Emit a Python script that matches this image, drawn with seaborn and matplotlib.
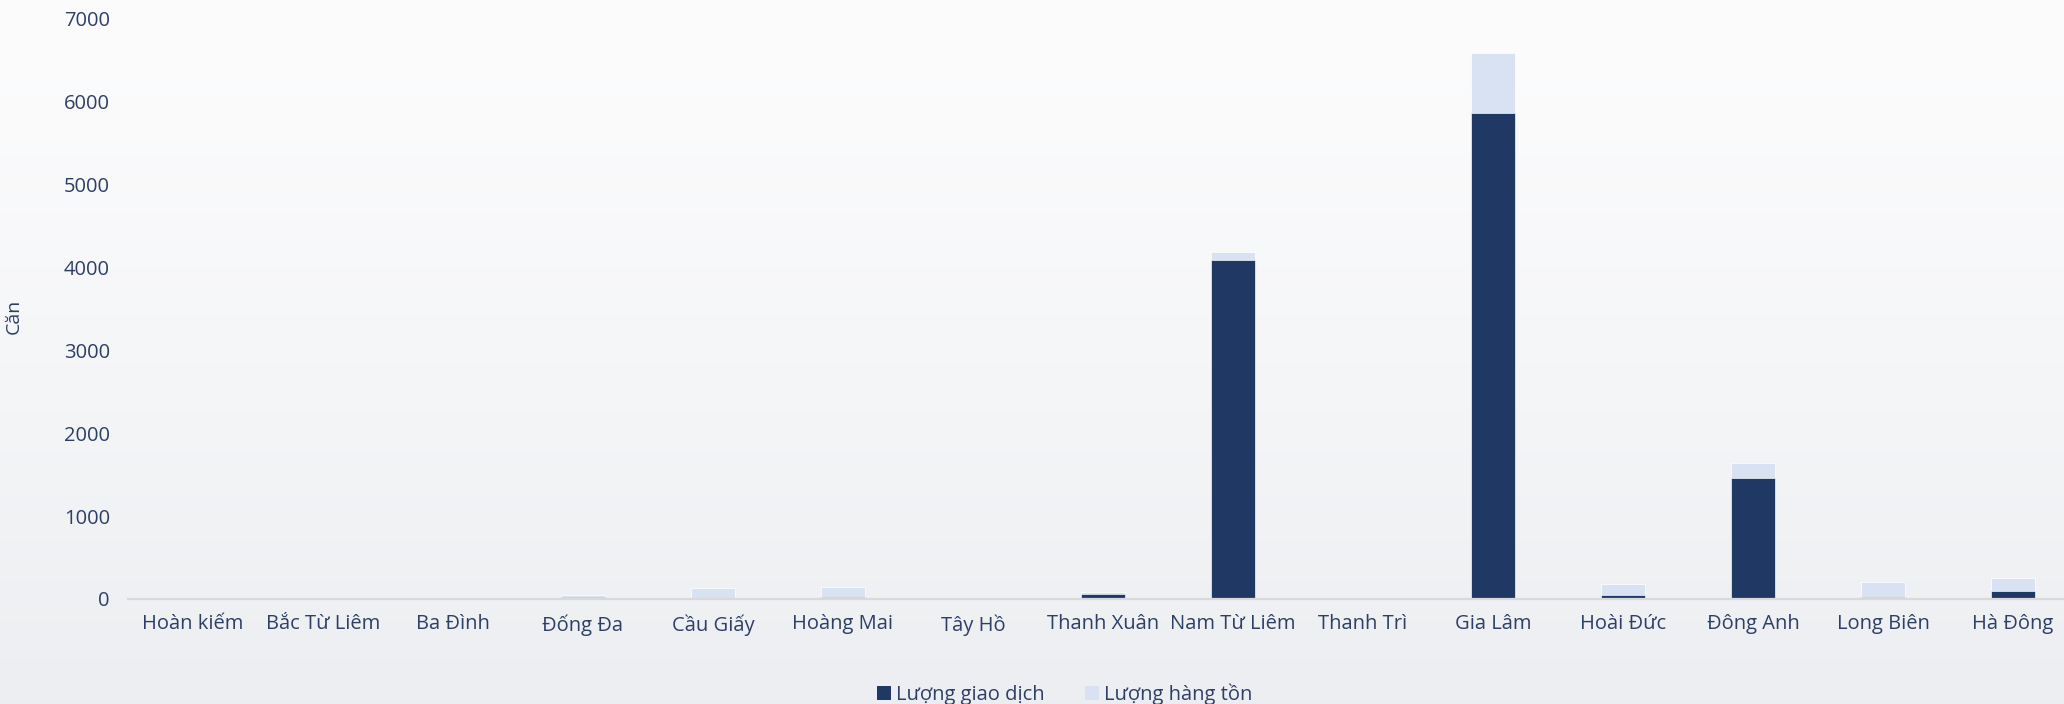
import numpy as np
import pandas as pd
import matplotlib
matplotlib.use("Agg")
import matplotlib.pyplot as plt
from matplotlib.patches import Patch
import seaborn as sns

# ---- data ----
districts = ["Hoàn kiếm", "Bắc Từ Liêm", "Ba Đình", "Đống Đa", "Cầu Giấy",
             "Hoàng Mai", "Tây Hồ", "Thanh Xuân", "Nam Từ Liêm", "Thanh Trì",
             "Gia Lâm", "Hoài Đức", "Đông Anh", "Long Biên", "Hà Đông"]
giao_dich = [0, 0, 0, 20, 15, 30, 0, 55, 4090, 0, 5860, 45, 1460, 30, 95]
hang_ton = [0, 0, 0, 25, 115, 110, 12, 30, 95, 0, 720, 140, 180, 180, 155]
y_ticks = [0, 1000, 2000, 3000, 4000, 5000, 6000, 7000]
series_names = ["Lượng giao dịch", "Lượng hàng tồn"]
y_label = "Căn"

DARK = "#1F3864"
LIGHT = "#D9E2F3"
TEXT = "#2E3F66"

sns.set_theme(style="white")
plt.rcParams["font.family"] = ["Open Sans", "DejaVu Sans"]

df = pd.DataFrame({"district": districts, "gd": giao_dich, "ht": hang_ton})
df["total"] = df["gd"] + df["ht"]

W, H = 2064, 704
fig = plt.figure(figsize=(W / 100, H / 100), dpi=100)

# background gradient (decorative)
bg = fig.add_axes([0, 0, 1, 1], zorder=-10)
grad = np.linspace(0, 1, 256).reshape(-1, 1)
top = np.array([0.988, 0.988, 0.992])
bot = np.array([0.925, 0.933, 0.945])
img = top[None, None, :] * (1 - grad[..., None] ** 1.3) + bot[None, None, :] * (grad[..., None] ** 1.3)
bg.imshow(img, aspect="auto", extent=[0, 1, 0, 1])
bg.set_axis_off()

ax_left = 128 / W
ax_right = 2078 / W
ax_bottom = (H - 599) / H
ax_top = (H - 18.4) / H
ax = fig.add_axes([ax_left, ax_bottom, ax_right - ax_left, ax_top - ax_bottom])
ax.patch.set_alpha(0)

sns.barplot(data=df, x="district", y="total", order=districts, color=LIGHT,
            width=0.345, saturation=1, edgecolor="white", linewidth=0.5, ax=ax)
sns.barplot(data=df, x="district", y="gd", order=districts, color=DARK,
            width=0.345, saturation=1, edgecolor="#F4F6FA", linewidth=0.5, ax=ax)

ax.set_xlim(-0.5, len(districts) - 0.5)
ax.set_ylim(0, 7000)
ax.set_yticks(y_ticks)
ax.set_yticklabels([str(v) for v in y_ticks])
ax.set_xlabel("")
ax.set_ylabel(y_label, fontsize=14, color=TEXT)
ax.yaxis.set_label_coords(-0.054, 0.487)

for s in ["top", "right", "left"]:
    ax.spines[s].set_visible(False)
ax.spines["bottom"].set_color("#D9D9D9")
ax.spines["bottom"].set_linewidth(1.6)
ax.grid(False)
ax.tick_params(axis="x", length=0, pad=11, labelsize=14.5, labelcolor=TEXT)
ax.tick_params(axis="y", length=0, pad=13, labelsize=14.5, labelcolor=TEXT)

handles = [Patch(facecolor=DARK, edgecolor="none", label=series_names[0]),
           Patch(facecolor=LIGHT, edgecolor="none", label=series_names[1])]
leg = fig.legend(handles=handles, loc="center", bbox_to_anchor=(0.516, 0.014),
                 ncol=2, frameon=False, fontsize=14.5, handlelength=0.7,
                 handleheight=0.7, handletextpad=0.25, columnspacing=2.0)
for t in leg.get_texts():
    t.set_color(TEXT)

fig.savefig("out.png", dpi=100)
